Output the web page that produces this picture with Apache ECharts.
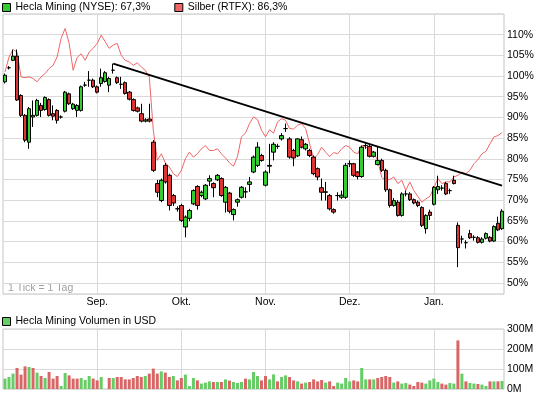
<!DOCTYPE html>
<html>
<head>
<meta charset="utf-8">
<script src="https://cdn.jsdelivr.net/npm/echarts@6/dist/echarts.min.js"></script>
<style>
  html, body { margin: 0; padding: 0; background: #fff; }
  #chart { width: 545px; height: 398px; }
</style>
</head>
<body>
<div id="chart"></div>
<script>
// trading days Aug 1 2011 - Jan 27 2012 (NYSE holidays left out)
const holidays = ['2011-09-05', '2011-11-24', '2011-12-26', '2012-01-02', '2012-01-16'];
const days = [];
for (let t = Date.UTC(2011, 7, 1); t <= Date.UTC(2012, 0, 27); t += 86400000) {
  const d = new Date(t);
  const wd = d.getUTCDay();
  const s = d.toISOString().slice(0, 10);
  if (wd > 0 && wd < 6 && holidays.indexOf(s) < 0) days.push(s);
}
const monthNames = { '09': 'Sep.', '10': 'Okt.', '11': 'Nov.', '12': 'Dez.', '01': 'Jan.' };

// Hecla Mining, performance in %
const hOpen = [98.6, 102.0, 103.8, 104.8, 95.3, 90.5, 84.0, 90.1, 90.5, 92.9,
  91.9, 94.3, 90.9, 91.7, 90.1, 91.5, 95.7, 92.1, 91.7, 91.7,
  97.8, 99.0, 99.0, 97.4, 98.2, 98.7, 97.8, 101.4, 99.6, 98.0,
  98.4, 96.1, 94.3, 92.3, 90.9, 89.1, 89.6, 84.0, 74.0, 69.9,
  78.4, 76.0, 71.1, 67.9, 68.7, 63.5, 65.6, 69.1, 73.3, 71.1,
  70.3, 74.6, 74.0, 74.9, 75.2, 69.5, 71.7, 66.5, 69.5, 70.7,
  72.0, 73.8, 76.8, 78.4, 80.8, 73.6, 78.2, 81.6, 83.0, 84.8,
  87.3, 84.8, 82.0, 80.7, 84.6, 82.4, 82.0, 80.4, 77.6, 73.0,
  71.9, 71.1, 67.7, 71.1, 70.7, 70.7, 78.8, 78.8, 76.8, 75.7,
  83.2, 83.0, 80.6, 78.6, 79.6, 77.2, 72.5, 68.7, 69.5, 66.3,
  71.5, 71.5, 70.1, 69.5, 68.2, 63.1, 67.1, 69.0, 72.5, 72.9,
  74.0, 72.3, 74.8, 63.9, 60.6, 59.7, 61.9, 61.0, 60.9, 59.8,
  60.8, 61.0, 60.1, 64.4, 63.1];
const hClose = [100.2, 102.0, 104.8, 94.2, 90.5, 84.5, 92.1, 90.5, 94.1, 91.7,
  94.8, 90.5, 90.3, 89.3, 90.1, 96.1, 93.3, 93.2, 92.9, 97.4,
  97.8, 99.0, 97.4, 96.1, 99.6, 100.8, 99.4, 101.4, 98.4, 98.0,
  95.8, 94.4, 91.7, 91.5, 89.1, 89.4, 89.1, 77.2, 71.9, 74.8,
  74.4, 68.7, 69.3, 67.9, 65.1, 65.9, 67.5, 72.3, 68.7, 71.9,
  73.6, 75.2, 73.0, 76.0, 71.1, 73.1, 67.3, 67.7, 70.1, 73.1,
  72.0, 74.4, 80.4, 82.8, 79.6, 76.8, 78.4, 83.5, 83.0, 85.6,
  87.3, 80.4, 80.2, 84.8, 82.8, 83.5, 80.8, 76.4, 75.6, 71.9,
  72.0, 67.9, 67.1, 71.1, 71.2, 78.4, 78.8, 76.0, 75.7, 82.8,
  83.2, 80.6, 81.6, 79.6, 77.2, 72.5, 68.7, 69.9, 66.3, 71.5,
  71.5, 70.1, 69.3, 68.7, 63.9, 66.3, 66.3, 73.1, 73.3, 72.9,
  71.5, 72.3, 74.0, 58.5, 60.6, 59.7, 60.9, 61.0, 59.8, 60.6,
  61.9, 60.1, 63.6, 62.8, 67.3];
const hLow = [98.2, 101.6, 103.6, 94.0, 90.1, 84.0, 82.4, 87.7, 90.2, 90.1,
  91.6, 90.2, 89.3, 88.5, 89.7, 91.2, 93.0, 91.8, 90.1, 91.4,
  97.4, 97.4, 97.1, 95.8, 97.4, 98.4, 96.1, 100.6, 98.1, 96.9,
  95.5, 94.1, 91.4, 91.2, 88.8, 88.8, 88.8, 76.8, 70.7, 69.5,
  74.0, 67.5, 68.6, 67.2, 64.7, 61.0, 64.9, 68.8, 67.7, 70.7,
  70.0, 73.4, 70.7, 74.6, 70.8, 67.0, 66.8, 65.1, 68.4, 70.4,
  70.5, 72.0, 76.5, 78.0, 79.3, 73.3, 76.5, 79.6, 82.4, 84.4,
  86.5, 80.0, 78.2, 80.4, 82.5, 82.0, 80.4, 76.0, 74.8, 69.9,
  69.9, 67.5, 66.7, 69.9, 70.3, 70.3, 78.0, 75.6, 75.0, 75.4,
  82.4, 80.3, 80.3, 78.4, 76.8, 72.0, 68.2, 68.4, 66.0, 66.0,
  70.9, 69.8, 69.0, 68.3, 63.5, 61.9, 65.2, 68.7, 71.5, 72.3,
  71.2, 71.5, 73.8, 53.8, 59.5, 58.3, 60.6, 60.2, 59.5, 59.5,
  60.5, 59.8, 59.9, 62.5, 62.8];
const hHigh = [100.6, 102.4, 106.4, 106.4, 95.6, 90.8, 92.5, 94.1, 94.5, 93.5,
  95.1, 94.6, 92.9, 92.0, 90.5, 96.4, 96.0, 93.5, 93.2, 97.7,
  98.6, 101.2, 99.4, 97.7, 101.8, 101.2, 99.8, 103.0, 99.9, 99.8,
  98.7, 96.4, 94.6, 92.6, 93.3, 89.8, 93.3, 84.5, 74.9, 75.2,
  79.0, 76.4, 71.5, 68.5, 69.1, 66.3, 67.9, 72.6, 73.6, 72.3,
  73.9, 76.0, 74.3, 76.3, 75.5, 73.4, 72.0, 68.0, 70.4, 73.4,
  73.1, 75.6, 80.8, 84.0, 81.2, 77.2, 83.6, 84.0, 83.6, 86.2,
  88.5, 85.2, 82.4, 85.0, 85.4, 83.8, 82.4, 80.8, 77.9, 75.2,
  74.4, 71.5, 68.0, 71.9, 72.3, 79.0, 79.6, 79.0, 77.0, 83.2,
  84.0, 83.3, 81.9, 82.8, 80.0, 77.6, 72.8, 70.5, 70.0, 71.9,
  72.3, 71.9, 70.4, 69.9, 68.5, 66.6, 67.7, 73.4, 75.9, 73.6,
  74.4, 72.8, 75.9, 64.6, 61.4, 60.3, 62.8, 61.5, 61.3, 61.0,
  62.2, 61.3, 63.9, 66.0, 67.8];

// Silber (RTFX), performance in %
const silver = [101.0, 104.6, 106.4, 105.8, 99.8, 99.6, 99.8, 99.4, 98.6, 99.8,
  100.6, 101.8, 102.6, 104.6, 109.1, 111.5, 107.9, 101.4, 104.5, 105.4,
  103.8, 105.8, 106.7, 107.9, 109.9, 108.3, 106.7, 107.5, 107.9, 105.0,
  103.8, 103.4, 102.6, 103.2, 102.2, 101.4, 99.8, 86.9, 79.6, 81.2,
  79.0, 78.0, 76.4, 75.7, 77.2, 80.0, 81.6, 80.4, 81.2, 82.4,
  83.2, 82.0, 82.0, 82.4, 81.2, 80.2, 79.0, 78.2, 80.5, 85.3,
  86.2, 88.5, 90.1, 89.5, 86.9, 85.3, 87.0, 86.2, 88.9, 89.7,
  89.3, 87.3, 87.2, 88.1, 88.5, 87.3, 83.6, 80.0, 81.0, 82.8,
  81.6, 80.5, 81.5, 81.2, 82.4, 83.2, 82.8, 81.6, 81.2, 83.2,
  82.8, 82.4, 81.4, 79.6, 75.5, 74.8, 75.0, 75.6, 74.0, 74.8,
  72.3, 74.4, 72.3, 70.9, 69.5, 70.3, 70.9, 73.0, 75.2, 74.0,
  74.4, 74.4, 75.6, 76.0, 76.8, 76.4, 77.2, 78.8, 79.8, 81.2,
  81.8, 83.6, 85.3, 85.6, 86.3];

// volume in million USD
const volume = [52, 60, 77, 105, 72, 113, 110, 105, 82, 65,
  55, 85, 52, 65, 15, 80, 68, 52, 52, 55,
  45, 65, 52, 43, 60, null, 55, 55, 60, 60,
  48, 48, 55, 65, 60, 65, 77, 102, 77, 88,
  82, 60, 65, 43, 55, 72, 15, 55, 43, 27,
  32, 38, 35, 35, 35, 48, 42, 35, 30, 35,
  52, 48, 85, 65, 43, 65, 48, 73, 38, 60,
  68, 60, 43, 38, 27, 32, 35, 48, 38, 45,
  32, 38, 15, 32, 27, 55, 38, 43, 38, 105,
  48, 48, 48, 55, 60, 65, 60, 32, 38, 27,
  30, 22, 15, 35, 32, 27, 43, 52, 35, 27,
  22, 30, 27, 243, 77, 38, 30, 27, 25, 22,
  15, 38, 38, 38, 40];

// trend line: [day index, value]
const trendLine = [[27, 103.0], [124, 73.5]];

const nameHecla = 'Hecla Mining (NYSE): 67,3%';
const nameSilver = 'Silber (RTFX): 86,3%';
const nameVol = 'Hecla Mining Volumen in USD';

const green = '#33cc33';
const red = '#dd3333';
const gridColor = '#dadada';
const borderColor = '#c4c4c4';
const font = 'Liberation Sans';

function isMonthStart(i) {
  return i > 0 && days[i].slice(5, 7) !== days[i - 1].slice(5, 7);
}

const candles = days.map((d, i) => [hOpen[i], hClose[i], hLow[i], hHigh[i]]);

const chart = echarts.init(document.getElementById('chart'));
chart.setOption({
  animation: false,
  textStyle: { fontFamily: font },
  legend: [{
    left: 2, top: 2, padding: 0, itemWidth: 8, itemHeight: 8, itemGap: 24,
    selectedMode: false,
    textStyle: { fontSize: 10.5, color: '#000', fontFamily: font },
    data: [
      { name: nameHecla, icon: 'rect', itemStyle: { color: green, borderColor: '#000', borderWidth: 1 } },
      { name: nameSilver, icon: 'rect', itemStyle: { color: '#ee6666', borderColor: '#000', borderWidth: 1 } }
    ]
  }, {
    left: 2, top: 316, padding: 0, itemWidth: 8, itemHeight: 8,
    selectedMode: false,
    textStyle: { fontSize: 10.5, color: '#000', fontFamily: font },
    data: [
      { name: nameVol, icon: 'rect', itemStyle: { color: '#66cc66', borderColor: '#000', borderWidth: 1 } }
    ]
  }],
  graphic: [{
    type: 'text', left: 8, top: 283,
    style: { text: '1 Tick = 1 Tag', fill: '#a0a0a0', font: '10.5px ' + font }
  }],
  grid: [
    { left: 3, right: 41, top: 14, height: 280, show: true, borderColor: borderColor, borderWidth: 1 },
    { left: 3, right: 41, top: 329, height: 60, show: true, borderColor: borderColor, borderWidth: 1 }
  ],
  xAxis: [{
    type: 'category', gridIndex: 0, data: days, boundaryGap: true,
    axisLine: { show: false }, axisTick: { show: false },
    axisLabel: {
      interval: (i) => isMonthStart(i), margin: 3, fontSize: 10.5, color: '#000',
      formatter: (v) => monthNames[v.slice(5, 7)]
    },
    splitLine: { show: true, interval: (i) => isMonthStart(i), alignWithLabel: true, lineStyle: { color: gridColor } }
  }, {
    type: 'category', gridIndex: 1, data: days, boundaryGap: true,
    axisLine: { show: false }, axisTick: { show: false }, axisLabel: { show: false },
    splitLine: { show: true, interval: (i) => isMonthStart(i), alignWithLabel: true, lineStyle: { color: gridColor } }
  }],
  yAxis: [{
    type: 'value', gridIndex: 0, position: 'right', min: 47.3, max: 115,
    splitNumber: 14, minInterval: 5, maxInterval: 5,
    axisLine: { show: false }, axisTick: { show: false },
    axisLabel: {
      margin: 3, fontSize: 10.5, color: '#000',
      formatter: (v) => {
        const r = Math.round(v / 5) * 5;
        return (Math.abs(v - r) < 1e-6 && r >= 50 && r <= 110) ? r + '%' : '';
      }
    },
    splitLine: { lineStyle: { color: gridColor } }
  }, {
    type: 'value', gridIndex: 1, position: 'right', min: 0, max: 300, interval: 100,
    axisLine: { show: false }, axisTick: { show: false },
    axisLabel: { margin: 3, fontSize: 10.5, color: '#000', formatter: (v) => v + 'M' },
    splitLine: { lineStyle: { color: gridColor } }
  }],
  series: [{
    name: nameSilver, type: 'line', xAxisIndex: 0, yAxisIndex: 0, z: 1,
    data: silver, symbol: 'none',
    lineStyle: { color: '#ee6666', width: 1 }, itemStyle: { color: '#ee6666' }
  }, {
    name: nameHecla, type: 'candlestick', xAxisIndex: 0, yAxisIndex: 0, z: 2,
    data: candles, barWidth: 4,
    itemStyle: { color: green, color0: red, borderColor: '#000', borderColor0: '#000', borderWidth: 1 }
  }, {
    name: 'Trend', type: 'line', xAxisIndex: 0, yAxisIndex: 0, z: 3,
    data: trendLine.map(p => [days[p[0]], p[1]]), symbol: 'none',
    lineStyle: { color: '#000', width: 2 }
  }, {
    name: nameVol, type: 'bar', xAxisIndex: 1, yAxisIndex: 1,
    data: volume, barWidth: 3,
    itemStyle: {
      color: (p) => {
        const prev = p.dataIndex > 0 ? hClose[p.dataIndex - 1] : hOpen[0];
        return hClose[p.dataIndex] >= prev ? '#66cc66' : '#d86666';
      }
    }
  }]
});
</script>
</body>
</html>
